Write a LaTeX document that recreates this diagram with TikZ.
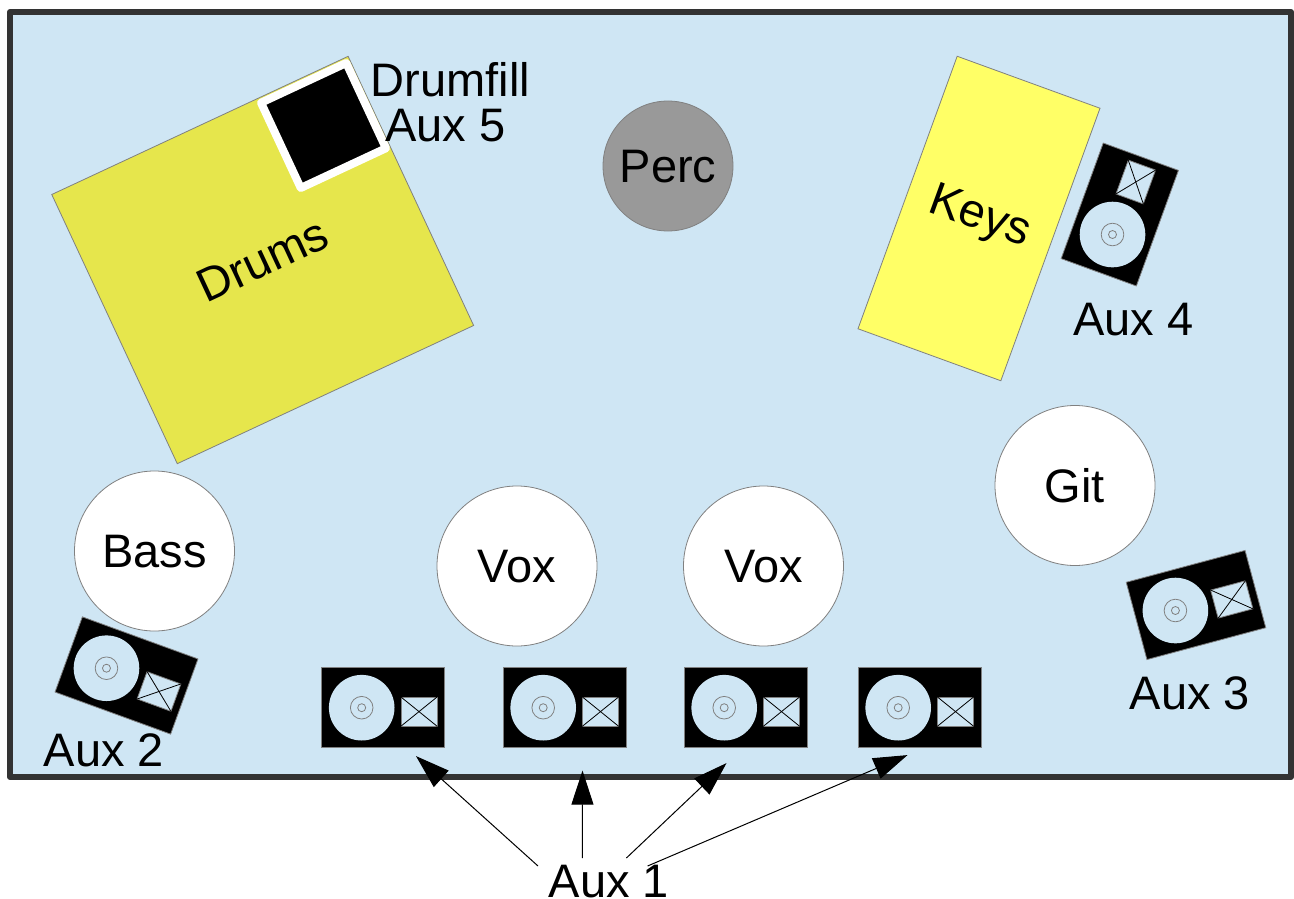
\documentclass[tikz,border=0pt]{standalone}
\usepackage{fontspec}
\setmainfont{Liberation Sans}
\usetikzlibrary{arrows.meta}
\usetikzlibrary{calc}

\definecolor{stagecol}{HTML}{CFE6F4}
\definecolor{drumscol}{HTML}{E6E64C}
\definecolor{keyscol}{HTML}{FFFF66}
\definecolor{edgecol}{HTML}{808080}

\tikzset{
  lab/.style={font=\fontsize{47}{47}\selectfont,inner sep=0pt},
  player/.style={draw=edgecol,circle,fill=white,inner sep=0pt,minimum size=160pt,text height=33pt,text depth=0pt,lab},
  riser/.style={draw=edgecol,rectangle,inner sep=0pt,lab},
  cue/.style={draw,black,line width=1pt,-{Triangle[length=34pt,width=22pt]}},
  wedgebody/.style={draw=edgecol,rectangle,fill=black,inner sep=0pt,minimum width=123pt,minimum height=80pt,transform shape},
  wedgecone/.style={circle,fill=stagecol,inner sep=0pt,minimum size=65.6pt},
  wedgering/.style={draw=edgecol,circle,inner sep=0pt},
  wedgehorn/.style={draw=edgecol,rectangle,fill=stagecol,inner sep=0pt,minimum width=36pt,minimum height=29pt,transform shape},
  wedge/.pic={
    \node [wedgebody] (-body) at (0,0) {};
    \node [wedgecone] (-cone) at (-21.3,0) {};
    \node [wedgering,minimum size=22.6pt] (-ringa) at (-21.3,0) {};
    \node [wedgering,minimum size=8pt] (-ringb) at (-21.3,0) {};
    \node [wedgehorn] (-horn) at (36,3.9) {};
    \draw [black] (-horn.north west) -- (-horn.south east);
    \draw [black] (-horn.north east) -- (-horn.south west);
  }
}

\begin{document}
\begin{tikzpicture}[x=1pt,y=-1pt,line width=0.8pt]

  \useasboundingbox (0,0) rectangle (1294,899);

  \node [draw=black!80,line width=6pt,line join=round,rectangle,fill=stagecol,inner sep=0pt,minimum width=1281pt,minimum height=765pt] (Stage) at (650.5,394.5) {};

  \node [riser,fill=drumscol,rotate=25,minimum width=327pt,minimum height=297pt] (Drums) at (262.7,260) {Drums};
  \node [riser,fill=keyscol,rotate=-20,minimum width=152pt,minimum height=290pt] (Keys) at (979,218.5) {Keys};

  \node [draw=white,line width=8pt,line join=round,rectangle,fill=black,inner sep=0pt,rotate=25,minimum size=94pt] (Fill) at (323.5,125.5) {};

  \node [player,fill=black!40,minimum size=130pt] (Perc) at (668,166) {Perc};
  \node [player] (Git)  at (1075,485.5) {Git};
  \node [player] (Bass) at (154.5,551) {Bass};
  \node [player] (VoxA) at (517,566) {Vox};
  \node [player] (VoxB) at (763.5,566) {Vox};

  \pic (MonA) at (383,707.7) {wedge};
  \pic (MonB) at (564.5,707.7) {wedge};
  \pic (MonC) at (745.5,707.7) {wedge};
  \pic (MonD) at (919.5,707.7) {wedge};
  \pic (MonE) [rotate=-20] at (126.5,675.5) {wedge};
  \pic (MonF) [rotate=15] at (1196,605) {wedge};
  \pic (MonG) [rotate=70] at (1119.8,214.5) {wedge};

  \node [lab] (Fillname) at (450.5,80) {Drumfill};
  \node [lab] (AuxH) at (445.5,126) {Aux 5};
  \node [lab] (AuxB) at (104,750) {Aux 2};
  \node [lab] (AuxF) at (1190,693) {Aux 3};
  \node [lab] (AuxG) at (1133.5,320) {Aux 4};
  \node [lab] (AuxA) at (609,882) {Aux 1};

  \path
    ($(AuxA.center)+(-71,-16)$)   edge [cue] ($(MonA-body.south)+(33,8)$)
    ($(AuxA.center)+(-26.6,-24)$) edge [cue] ($(MonB-body.south)+(18,22.5)$)
    ($(AuxA.center)+(17.4,-24)$)  edge [cue] ($(MonC-body.south)+(-19,15)$)
    ($(AuxA.center)+(38.6,-16)$)  edge [cue] ($(MonD-body.south)+(-12,7)$);

\end{tikzpicture}
\end{document}
